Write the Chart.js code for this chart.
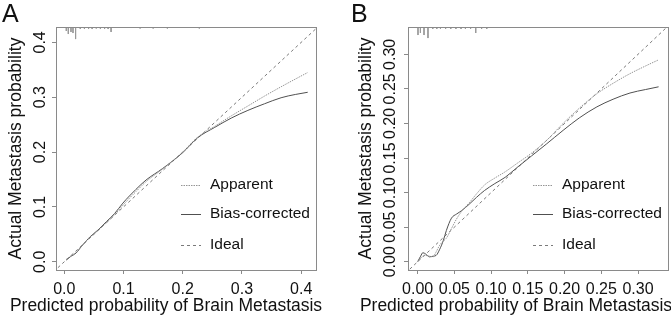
<!DOCTYPE html>
<html>
<head>
<meta charset="utf-8">
<script src="https://cdn.jsdelivr.net/npm/chart.js@4.4.1/dist/chart.umd.min.js"></script>
<style>
  body { margin: 0; background: #fff; }
  #wrap { display: flex; width: 671px; height: 318px; }
  canvas { display: block; }
</style>
</head>
<body>
<div id="wrap">
  <canvas id="chartA" width="335" height="318"></canvas>
  <canvas id="chartB" width="336" height="318"></canvas>
</div>
<script>
// panel A
var predA = [0.003, 0.010, 0.020, 0.029, 0.043, 0.057, 0.071, 0.085, 0.099, 0.110, 0.121, 0.138, 0.166, 0.200, 0.225, 0.254, 0.282, 0.310, 0.338, 0.366, 0.390, 0.411];
var apparentA = [0.004, 0.010, 0.017, 0.029, 0.044, 0.057, 0.071, 0.086, 0.103, 0.116, 0.128, 0.146, 0.169, 0.200, 0.227, 0.247, 0.266, 0.284, 0.302, 0.319, 0.333, 0.345];
var biasA = [0.003, 0.009, 0.016, 0.028, 0.045, 0.058, 0.073, 0.088, 0.107, 0.120, 0.132, 0.149, 0.170, 0.199, 0.226, 0.245, 0.262, 0.276, 0.288, 0.299, 0.305, 0.309];
var rugXA = [0.0034, 0.0068, 0.0113, 0.0147, 0.0191, 0.027, 0.034, 0.041, 0.047, 0.054, 0.061, 0.068, 0.074, 0.079, 0.128, 0.150, 0.174, 0.228];
var rugLenA = [0.0073, 0.0128, 0.0091, 0.011, 0.022, 0.0037, 0.0037, 0.0037, 0.0037, 0.0027, 0.0037, 0.0037, 0.0037, 0.0091, 0.0027, 0.0027, 0.0027, 0.0027];
var ticksA = [0.0, 0.1, 0.2, 0.3, 0.4];

// panel B
var predB = [0.000, 0.004, 0.007, 0.011, 0.016, 0.021, 0.025, 0.030, 0.035, 0.039, 0.046, 0.053, 0.060, 0.070, 0.080, 0.091, 0.105, 0.119, 0.135, 0.155, 0.175, 0.198, 0.220, 0.244, 0.266, 0.289, 0.310, 0.328];
var apparentB = [0.001, 0.005, 0.008, 0.009, 0.008, 0.007, 0.014, 0.024, 0.030, 0.034, 0.048, 0.062, 0.073, 0.085, 0.098, 0.111, 0.121, 0.130, 0.142, 0.157, 0.175, 0.200, 0.222, 0.243, 0.258, 0.272, 0.283, 0.292];
var biasB = [0.000, 0.008, 0.013, 0.011, 0.007, 0.008, 0.009, 0.018, 0.031, 0.045, 0.063, 0.069, 0.074, 0.083, 0.093, 0.103, 0.113, 0.122, 0.136, 0.153, 0.170, 0.190, 0.208, 0.224, 0.235, 0.244, 0.249, 0.253];
var rugXB = [0.0004, 0.0037, 0.0086, 0.014, 0.0205, 0.026, 0.031, 0.038, 0.045, 0.052, 0.059, 0.065, 0.072, 0.079, 0.087, 0.094];
var rugLenB = [0.0116, 0.0087, 0.0116, 0.016, 0.0029, 0.0029, 0.0029, 0.0029, 0.0029, 0.0029, 0.0029, 0.0029, 0.0029, 0.0087, 0.0029, 0.0029];
var ticksB = [0.00, 0.05, 0.10, 0.15, 0.20, 0.25, 0.30];

var legendLabels = ['Apparent', 'Bias-corrected', 'Ideal'];
var FONT = "'Liberation Sans', Arial, sans-serif";
var TEXT = '#111111';

function toPoints(xs, ys) {
  return xs.map(function (x, i) { return { x: x, y: ys[i] }; });
}

function rugPoints(xs, lens, top) {
  var pts = [];
  xs.forEach(function (x, i) {
    pts.push({ x: x, y: top });
    pts.push({ x: x, y: top - lens[i] });
    pts.push({ x: x, y: null });
  });
  return pts;
}

// box, legend, x title and panel letter
var extras = {
  id: 'extras',
  afterDraw: function (chart) {
    var o = chart.options.plugins.extras;
    var ctx = chart.ctx;
    var a = chart.chartArea;
    ctx.save();
    ctx.strokeStyle = '#8a8a8a';
    ctx.lineWidth = 1;
    ctx.strokeRect(Math.round(a.left) + 0.5, Math.round(a.top) + 0.5, Math.round(a.right - a.left), Math.round(a.bottom - a.top));

    ctx.fillStyle = TEXT;
    ctx.textBaseline = 'middle';
    ctx.font = '15.5px ' + FONT;
    legendLabels.forEach(function (lab, i) {
      var ds = chart.data.datasets[i];
      var y = o.legendRows[i];
      ctx.strokeStyle = ds.borderColor;
      ctx.lineWidth = 1;
      ctx.setLineDash(ds.borderDash || []);
      ctx.beginPath();
      ctx.moveTo(o.legendX, y + 0.5);
      ctx.lineTo(o.legendX + 20, y + 0.5);
      ctx.stroke();
      ctx.setLineDash([]);
      ctx.textAlign = 'left';
      ctx.fillText(lab, o.legendX + 29, y);
    });

    ctx.textAlign = 'center';
    ctx.font = '17.5px ' + FONT;
    ctx.fillText('Predicted probability of Brain Metastasis', o.xTitleX, 306);

    ctx.textAlign = 'left';
    ctx.font = '25px ' + FONT;
    ctx.fillText(o.letter, o.letterX, 15);
    ctx.restore();
  }
};

function makeChart(id, cfg) {
  var ctx = document.getElementById(id).getContext('2d');
  return new Chart(ctx, {
    type: 'scatter',
    data: {
      datasets: [
        { label: 'Apparent', data: toPoints(cfg.pred, cfg.apparent), showLine: true, borderColor: '#959595', borderDash: [1.5, 1], borderWidth: 1, pointRadius: 0, cubicInterpolationMode: 'monotone' },
        { label: 'Bias-corrected', data: toPoints(cfg.pred, cfg.bias), showLine: true, borderColor: '#505050', borderWidth: 1, pointRadius: 0, cubicInterpolationMode: 'monotone' },
        { label: 'Ideal', data: [{ x: -0.1, y: -0.1 }, { x: 0.6, y: 0.6 }], showLine: true, borderColor: '#7a7a7a', borderDash: [3, 3], borderWidth: 1, pointRadius: 0 },
        { label: 'rug', data: rugPoints(cfg.rugX, cfg.rugLen, cfg.yMax), showLine: true, spanGaps: false, borderColor: '#9a9a9a', borderWidth: 1, pointRadius: 0 }
      ]
    },
    options: {
      responsive: false,
      animation: false,
      devicePixelRatio: 1,
      layout: { padding: { top: 27, right: cfg.padRight, left: 0, bottom: 0 } },
      plugins: {
        legend: { display: false },
        tooltip: { enabled: false },
        extras: cfg.extras
      },
      scales: {
        x: {
          type: 'linear',
          min: cfg.xMin,
          max: cfg.xMax,
          afterBuildTicks: function (s) { s.ticks = cfg.ticks.map(function (v) { return { value: v }; }); },
          ticks: {
            color: TEXT,
            font: { family: FONT, size: 16 },
            padding: 6,
            maxRotation: 0,
            autoSkip: false,
            callback: function (v) { return v.toFixed(cfg.dec); }
          },
          grid: { display: true, drawOnChartArea: false, tickLength: 4, color: '#8a8a8a' },
          border: { display: false },
          afterFit: function (s) { s.height = 48; }
        },
        y: {
          type: 'linear',
          min: cfg.yMin,
          max: cfg.yMax,
          afterBuildTicks: function (s) { s.ticks = cfg.ticks.map(function (v) { return { value: v }; }); },
          ticks: {
            color: TEXT,
            font: { family: FONT, size: 16 },
            padding: cfg.yTickPad,
            minRotation: 90,
            maxRotation: 90,
            autoSkip: false,
            crossAlign: 'center',
            callback: function (v) { return v.toFixed(cfg.dec); }
          },
          grid: { display: true, drawOnChartArea: false, tickLength: 4, color: '#8a8a8a' },
          border: { display: false },
          title: {
            display: true,
            text: 'Actual Metastasis probability',
            color: TEXT,
            font: { family: FONT, size: 17.5 },
            padding: { top: cfg.yTitlePad, bottom: 0 }
          },
          afterFit: function (s) { s.width = cfg.yWidth; }
        }
      }
    },
    plugins: [extras]
  });
}

var chartA = makeChart('chartA', {
  pred: predA, apparent: apparentA, bias: biasA, rugX: rugXA, rugLen: rugLenA, ticks: ticksA,
  xMin: -0.014, xMax: 0.425, yMin: -0.015, yMax: 0.428, dec: 1,
  padRight: 19, yWidth: 56, yTickPad: 0, yTitlePad: 5.5,
  extras: { letter: 'A', letterX: 2, legendX: 181, legendRows: [185, 214, 245], xTitleX: 166 }
});

var chartB = makeChart('chartB', {
  pred: predB, apparent: apparentB, bias: biasB, rugX: rugXB, rugLen: rugLenB, ticks: ticksB,
  xMin: -0.0132, xMax: 0.3408, yMin: -0.012, yMax: 0.3395, dec: 2,
  padRight: 3, yWidth: 73, yTickPad: -2, yTitlePad: 20.5,
  extras: { letter: 'B', letterX: 16, legendX: 198, legendRows: [185, 214, 245], xTitleX: 181 }
});
</script>
</body>
</html>
